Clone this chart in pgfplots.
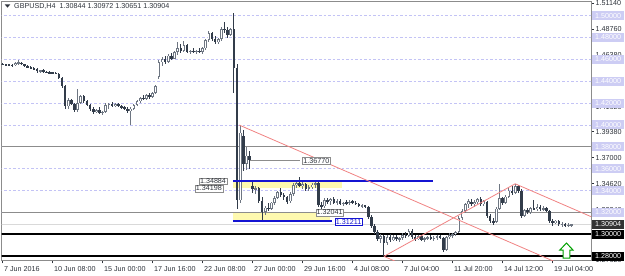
\documentclass[border=0pt]{standalone}
\usepackage{pgfplots}
\pgfplotsset{compat=1.18}
\usepackage{pgfplotstable}
\usepackage{fontspec}
\setmainfont{Liberation Sans}
\definecolor{bear}{RGB}{50,60,74}
\definecolor{bull}{RGB}{110,118,130}
\definecolor{lav}{RGB}{205,205,244}
\definecolor{lavgrid}{RGB}{195,195,245}
\definecolor{ylw}{RGB}{254,249,175}
\definecolor{bluel}{RGB}{20,20,210}
\definecolor{redl}{RGB}{240,130,130}
\definecolor{txt}{RGB}{45,50,58}
\definecolor{frame}{RGB}{140,140,140}
\definecolor{agreen}{RGB}{0,160,0}

\pgfplotstableread{
i o h l c
0 1.4560 1.4568 1.4545 1.4552
1 1.4552 1.4560 1.4542 1.4550
2 1.4550 1.4558 1.4540 1.4548
3 1.4548 1.4556 1.4530 1.4545
4 1.4545 1.4575 1.4540 1.4565
5 1.4565 1.4590 1.4552 1.4570
6 1.4570 1.4580 1.4548 1.4555
7 1.4555 1.4560 1.4530 1.4540
8 1.4540 1.4548 1.4520 1.4528
9 1.4528 1.4535 1.4512 1.4520
10 1.4520 1.4530 1.4505 1.4512
11 1.4512 1.4520 1.4480 1.4490
12 1.4490 1.4505 1.4478 1.4500
13 1.4500 1.4508 1.4475 1.4485
14 1.4485 1.4495 1.4472 1.4480
15 1.4480 1.4490 1.4470 1.4478
16 1.4478 1.4485 1.4468 1.4475
17 1.4475 1.4482 1.4462 1.4470
18 1.4470 1.4475 1.4420 1.4430
19 1.4430 1.4435 1.4340 1.4360
20 1.4360 1.4370 1.4150 1.4170
21 1.4170 1.4250 1.4150 1.4230
22 1.4230 1.4235 1.4180 1.4190
23 1.4190 1.4200 1.4120 1.4135
24 1.4135 1.4330 1.4115 1.4200
25 1.4200 1.4275 1.4190 1.4265
26 1.4265 1.4275 1.4200 1.4215
27 1.4215 1.4230 1.4170 1.4180
28 1.4180 1.4195 1.4130 1.4145
29 1.4145 1.4160 1.4100 1.4120
30 1.4120 1.4150 1.4105 1.4140
31 1.4140 1.4160 1.4100 1.4110
32 1.4110 1.4130 1.4090 1.4120
33 1.4120 1.4200 1.4110 1.4180
34 1.4180 1.4205 1.4150 1.4195
35 1.4195 1.4210 1.4160 1.4170
36 1.4170 1.4200 1.4160 1.4190
37 1.4190 1.4200 1.4165 1.4175
38 1.4175 1.4185 1.4150 1.4160
39 1.4160 1.4175 1.4140 1.4150
40 1.4150 1.4160 1.4110 1.4125
41 1.4125 1.4160 1.4000 1.4150
42 1.4150 1.4195 1.4140 1.4185
43 1.4185 1.4230 1.4170 1.4220
44 1.4220 1.4260 1.4200 1.4245
45 1.4245 1.4275 1.4225 1.4240
46 1.4240 1.4285 1.4230 1.4270
47 1.4270 1.4290 1.4240 1.4255
48 1.4255 1.4300 1.4245 1.4295
49 1.4295 1.4370 1.4285 1.4360
50 1.4440 1.4590 1.4425 1.4575
51 1.4575 1.4620 1.4540 1.4600
52 1.4600 1.4630 1.4560 1.4580
53 1.4580 1.4650 1.4570 1.4635
54 1.4635 1.4660 1.4590 1.4605
55 1.4605 1.4680 1.4600 1.4665
56 1.4665 1.4760 1.4640 1.4700
57 1.4700 1.4740 1.4660 1.4680
58 1.4680 1.4765 1.4670 1.4735
59 1.4735 1.4745 1.4660 1.4670
60 1.4670 1.4690 1.4650 1.4675
61 1.4675 1.4700 1.4660 1.4670
62 1.4670 1.4690 1.4650 1.4680
63 1.4680 1.4700 1.4655 1.4665
64 1.4665 1.4710 1.4650 1.4700
65 1.4700 1.4790 1.4690 1.4775
66 1.4775 1.4860 1.4760 1.4840
67 1.4840 1.4850 1.4770 1.4790
68 1.4790 1.4810 1.4740 1.4760
69 1.4760 1.4800 1.4745 1.4785
70 1.4785 1.4900 1.4770 1.4880
71 1.4880 1.4945 1.4840 1.4870
72 1.4870 1.4900 1.4800 1.4820
73 1.4820 1.4890 1.4810 1.4877
74 1.4877 1.5020 1.4290 1.4525
75 1.4525 1.4560 1.3229 1.3310
76 1.3310 1.3999 1.3290 1.3930
77 1.3900 1.3950 1.3580 1.3640
78 1.3640 1.3800 1.3590 1.3720
79 1.3720 1.3760 1.3600 1.3677
80 1.3440 1.3488 1.3380 1.3410
81 1.3410 1.3445 1.3370 1.3420
82 1.3420 1.3430 1.3290 1.3300
83 1.3300 1.3340 1.3121 1.3200
84 1.3205 1.3260 1.3180 1.3245
85 1.3245 1.3290 1.3215 1.3230
86 1.3230 1.3300 1.3220 1.3290
87 1.3290 1.3350 1.3270 1.3335
88 1.3335 1.3400 1.3320 1.3385
89 1.3385 1.3420 1.3340 1.3360
90 1.3360 1.3380 1.3310 1.3340
91 1.3340 1.3350 1.3280 1.3300
92 1.3300 1.3385 1.3290 1.3370
93 1.3370 1.3470 1.3350 1.3450
94 1.3450 1.3480 1.3420 1.3470
95 1.3470 1.3520 1.3430 1.3440
96 1.3440 1.3475 1.3410 1.3460
97 1.3460 1.3470 1.3400 1.3415
98 1.3415 1.3450 1.3395 1.3430
99 1.3430 1.3470 1.3410 1.3455
100 1.3455 1.3480 1.3420 1.3470
101 1.3470 1.3480 1.3250 1.3270
102 1.3270 1.3300 1.3230 1.3255
103 1.3255 1.3330 1.3240 1.3310
104 1.3310 1.3335 1.3280 1.3300
105 1.3300 1.3330 1.3270 1.3320
106 1.3320 1.3340 1.3280 1.3290
107 1.3290 1.3320 1.3270 1.3305
108 1.3305 1.3320 1.3270 1.3280
109 1.3280 1.3300 1.3260 1.3290
110 1.3290 1.3310 1.3270 1.3285
111 1.3285 1.3310 1.3270 1.3300
112 1.3300 1.3315 1.3275 1.3290
113 1.3290 1.3305 1.3265 1.3275
114 1.3275 1.3290 1.3250 1.3260
115 1.3260 1.3280 1.3240 1.3265
116 1.3265 1.3270 1.3240 1.3250
117 1.3250 1.3260 1.3140 1.3160
118 1.3160 1.3175 1.3060 1.3075
119 1.3075 1.3090 1.3000 1.3020
120 1.3020 1.3040 1.2940 1.2960
121 1.2960 1.3000 1.2920 1.2985
122 1.2985 1.2990 1.2798 1.2920
123 1.2920 1.2990 1.2900 1.2975
124 1.2975 1.3000 1.2930 1.2945
125 1.2945 1.2990 1.2935 1.2975
126 1.2975 1.2995 1.2940 1.2955
127 1.2955 1.2975 1.2930 1.2965
128 1.2965 1.3010 1.2950 1.2995
129 1.2995 1.3020 1.2970 1.2985
130 1.2985 1.3050 1.2975 1.3030
131 1.3030 1.3045 1.2960 1.2975
132 1.2975 1.2995 1.2940 1.2960
133 1.2960 1.2990 1.2945 1.2980
134 1.2980 1.2990 1.2935 1.2950
135 1.2950 1.2975 1.2930 1.2965
136 1.2965 1.2985 1.2945 1.2975
137 1.2975 1.2990 1.2950 1.2960
138 1.2960 1.2980 1.2940 1.2970
139 1.2970 1.2990 1.2950 1.2985
140 1.2985 1.2995 1.2955 1.2965
141 1.2965 1.2975 1.2840 1.2860
142 1.2860 1.2985 1.2850 1.2975
143 1.2975 1.3010 1.2960 1.2995
144 1.2995 1.3015 1.2970 1.3000
145 1.3000 1.3030 1.2985 1.3020
146 1.3020 1.3165 1.3010 1.3150
147 1.3150 1.3230 1.3130 1.3210
148 1.3210 1.3290 1.3195 1.3280
149 1.3280 1.3320 1.3245 1.3300
150 1.3300 1.3325 1.3260 1.3275
151 1.3275 1.3310 1.3250 1.3295
152 1.3295 1.3330 1.3280 1.3320
153 1.3320 1.3345 1.3260 1.3280
154 1.3280 1.3310 1.3255 1.3300
155 1.3300 1.3305 1.3150 1.3170
156 1.3170 1.3190 1.3100 1.3120
157 1.3120 1.3150 1.3085 1.3110
158 1.3110 1.3250 1.3100 1.3235
159 1.3235 1.3460 1.3220 1.3330
160 1.3330 1.3345 1.3270 1.3290
161 1.3290 1.3360 1.3280 1.3345
162 1.3345 1.3420 1.3330 1.3400
163 1.3400 1.3440 1.3360 1.3380
164 1.3380 1.3462 1.3370 1.3440
165 1.3440 1.3455 1.3380 1.3400
166 1.3400 1.3410 1.3150 1.3170
167 1.3170 1.3230 1.3160 1.3220
168 1.3220 1.3240 1.3185 1.3200
169 1.3200 1.3250 1.3190 1.3240
170 1.3240 1.3310 1.3220 1.3230
171 1.3230 1.3275 1.3215 1.3250
172 1.3250 1.3265 1.3215 1.3230
173 1.3230 1.3255 1.3210 1.3240
174 1.3240 1.3250 1.3200 1.3215
175 1.3215 1.3225 1.3100 1.3120
176 1.3120 1.3140 1.3080 1.3100
177 1.3100 1.3135 1.3090 1.3125
178 1.3125 1.3130 1.3075 1.3090
179 1.3090 1.3110 1.3070 1.3095
180 1.3095 1.3105 1.3065 1.3080
181 1.3080 1.3100 1.3070 1.30844
182 1.30844 1.30972 1.30651 1.30904
}\candles

\newcommand\candleplot[4]{%
  \addplot[draw=none, mark=none, forget plot,
    restrict expr to domain={\thisrow{c}-\thisrow{o}}{#3},
    error bars/.cd, y dir=both, y explicit, error mark=none,
    error bar style={draw=#1, line width=#2, solid}]
    table[x=i, #4] {\candles};
}
\newcommand\levelline[3]{\addplot[#1, forget plot] coordinates {(#2,#3) (190,#3)};}

\begin{document}
\begin{tikzpicture}[font=\fontsize{7.2}{8}\selectfont]
\path[use as bounding box] (-1.7bp,-15.7bp) rectangle (623.3bp,260.3bp);
\begin{axis}[
  at={(0,0)}, anchor=south west, scale only axis,
  width=589.3bp, height=258.6bp,
  xmin=-0.32, xmax=188.26, ymin=1.2762, ymax=1.51277,
  clip mode=individual,
  axis line style={draw=frame, line width=0.8bp},
  xtick={0,16,...,176},
  xticklabels={7 Jun 2016,10 Jun 08:00,15 Jun 00:00,17 Jun 16:00,22 Jun 08:00,27 Jun 00:00,29 Jun 16:00,4 Jul 08:00,7 Jul 04:00,11 Jul 20:00,14 Jul 12:00,19 Jul 04:00},
  xtick pos=bottom, ytick pos=right, yticklabel pos=right,
  tick align=outside, major tick length=3bp,
  tick style={draw=txt, line width=0.6bp},
  xticklabel style={anchor=north west, inner sep=0pt, xshift=1.2bp, yshift=-2.5bp, text=txt},
  ytick={1.2762,1.3224,1.3462,1.37,1.3938,1.4162,1.44,1.4638,1.4876,1.5114},
  yticklabels={1.27620,1.32240,1.34620,1.37000,1.39380,1.41620,1.44000,1.46380,1.48760,1.51140},
  yticklabel style={anchor=west, inner sep=0pt, xshift=1.5bp, text=txt},
  ticklabel style={font=\fontsize{7.2}{8}\selectfont},
]
% dashed grid lines
\pgfplotsinvokeforeach{1.50,1.48,1.46,1.44,1.42,1.40,1.38,1.36,1.34,1.32}{
  \addplot[lavgrid, line width=0.8bp, dash pattern=on 2.5bp off 2bp, forget plot] coordinates {(-1,#1) (190,#1)};
}
% yellow zones
\addplot[fill=ylw, draw=none, forget plot] coordinates {(73.7,1.34884) (108.6,1.34884) (108.6,1.34198) (73.7,1.34198)} -- cycle;
\addplot[fill=ylw, draw=none, forget plot] coordinates {(73.7,1.3195) (104.8,1.3195) (104.8,1.31211) (73.7,1.31211)} -- cycle;
% horizontal levels
\levelline{frame, line width=0.8bp}{-1}{1.38}
\levelline{frame, line width=0.8bp}{-1}{1.32041}
\levelline{black!15, line width=0.8bp}{-1}{1.30904}
\levelline{black, line width=1.6bp}{-1}{1.30}
\levelline{black, line width=1.6bp}{-1}{1.28}
% candles
\candleplot{bull}{1bp}{0:1}{y expr={(\thisrow{h}+\thisrow{l})/2}, y error expr={(\thisrow{h}-\thisrow{l})/2}}
\candleplot{bear}{1bp}{-1:-0.00000001}{y expr={(\thisrow{h}+\thisrow{l})/2}, y error expr={(\thisrow{h}-\thisrow{l})/2}}
\candleplot{bull}{2.8bp}{0:1}{y expr={(\thisrow{o}+\thisrow{c})/2}, y error expr={max(abs(\thisrow{c}-\thisrow{o})/2,0.00045)}}
\candleplot{white}{1.1bp}{0:1}{y expr={(\thisrow{o}+\thisrow{c})/2}, y error expr={max(abs(\thisrow{c}-\thisrow{o})/2-0.0008,0)}}
\candleplot{bear}{2.6bp}{-1:-0.00000001}{y expr={(\thisrow{o}+\thisrow{c})/2}, y error expr={max(abs(\thisrow{c}-\thisrow{o})/2,0.00045)}}
% drawn lines
\addplot[frame, line width=0.8bp, forget plot] coordinates {(79.1,1.3677) (95.1,1.3677)};
\addplot[bluel, line width=1.5bp, forget plot] coordinates {(73.7,1.34884) (137.7,1.34884)};
\addplot[bluel, line width=1.5bp, forget plot] coordinates {(73.7,1.31211) (105.3,1.31211)};
\addplot[redl, line width=0.8bp, forget plot] coordinates {(75.7,1.3999) (180,1.2708)};
\addplot[redl, line width=0.8bp, forget plot] coordinates {(122,1.2798) (164,1.3462)};
\addplot[redl, line width=0.8bp, forget plot] coordinates {(164,1.3462) (190,1.3140)};
\addplot[redl, line width=0.8bp, forget plot] coordinates {(122,1.2798) (130,1.2699)};
% arrow
\addplot[draw=agreen, fill=white, line width=1bp, forget plot] coordinates {(178.3,1.2856) (180.4,1.2920) (182.5,1.2856) (181.5,1.2856) (181.5,1.2783) (179.3,1.2783) (179.3,1.2856)} -- cycle;
% price labels on objects
\node[draw=frame, fill=white, text=txt, inner sep=0.8bp] at (axis cs:100.4,1.3672) {1.36770};
\node[draw=frame, fill=white, text=txt, inner sep=0.8bp] at (axis cs:66.0,1.3419) {1.34198};
\node[draw=frame, fill=white, text=txt, inner sep=0.8bp] at (axis cs:67.3,1.3486) {1.34884};
\node[draw=frame, fill=white, text=txt, inner sep=0.8bp] at (axis cs:104.6,1.3199) {1.32041};
\node[draw=bluel, fill=white, text=bluel, inner sep=0.8bp] at (axis cs:110.7,1.3116) {1.31211};
% coordinates for right labels
\coordinate (R) at (rel axis cs:1,0);
\coordinate (a150) at (axis cs:0,1.50);
\coordinate (a148) at (axis cs:0,1.48);
\coordinate (a146) at (axis cs:0,1.46);
\coordinate (a144) at (axis cs:0,1.44);
\coordinate (a142) at (axis cs:0,1.42);
\coordinate (a140) at (axis cs:0,1.40);
\coordinate (a138) at (axis cs:0,1.38);
\coordinate (a136) at (axis cs:0,1.36);
\coordinate (a134) at (axis cs:0,1.34);
\coordinate (a132) at (axis cs:0,1.32);
\coordinate (b1) at (axis cs:0,1.30904);
\coordinate (b2) at (axis cs:0,1.30);
\coordinate (b3) at (axis cs:0,1.28);
\end{axis}
\tikzset{lavbox/.style={fill=lav, text=white, anchor=west, inner sep=0pt, minimum height=9bp, minimum width=31.5bp, xshift=1.2bp},
         blkbox/.style={fill=black, text=white, anchor=west, inner sep=0pt, minimum height=9bp, minimum width=31.5bp, xshift=1.2bp}}
\node[lavbox] at (R|-a150) {1.50000};
\node[lavbox] at (R|-a148) {1.48000};
\node[lavbox] at (R|-a146) {1.46000};
\node[lavbox] at (R|-a144) {1.44000};
\node[lavbox] at (R|-a142) {1.42000};
\node[lavbox] at (R|-a140) {1.40000};
\node[lavbox] at (R|-a138) {1.38000};
\node[lavbox] at (R|-a136) {1.36000};
\node[lavbox] at (R|-a134) {1.34000};
\node[lavbox] at (R|-a132) {1.32000};
\node[blkbox, fill=black!80] at (R|-b1) {1.30904};
\node[blkbox] at (R|-b2) {1.30000};
\node[blkbox] at (R|-b3) {1.28000};
% title
\fill[txt] (3.0bp,256.0bp) -- (8.6bp,256.0bp) -- (5.8bp,252.6bp) -- cycle;
\node[anchor=west, text=txt, inner sep=0pt] at (12.3bp,254.3bp) {GBPUSD,H4\ \ 1.30844 1.30972 1.30651 1.30904};
\end{tikzpicture}
\end{document}
